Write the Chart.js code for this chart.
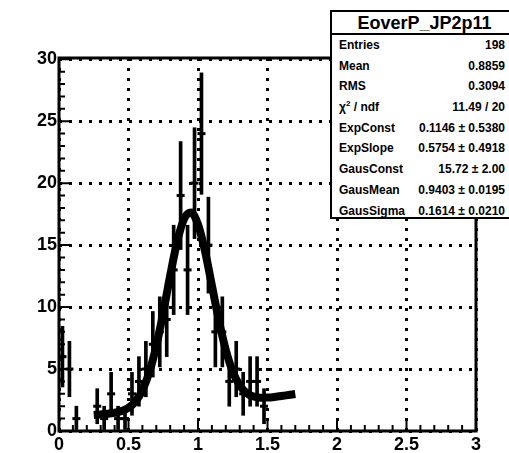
<!DOCTYPE html>
<html>
<head>
<meta charset="utf-8">
<script src="https://cdn.jsdelivr.net/npm/chart.js@4.4.1/dist/chart.umd.min.js"></script>
<style>
  html, body { margin: 0; padding: 0; background: #fff; }
  #wrap { position: relative; width: 509px; height: 453px; overflow: hidden; }
  #stats {
    position: absolute; left: 330px; top: 10px; width: 181px; height: 209px;
    background: #fff; border: 2px solid #000; box-sizing: border-box;
    font-family: "Liberation Sans", Arial, sans-serif; font-weight: bold; color: #000;
  }
  #stats .title { height: 21px; line-height: 22px; text-align: center; font-size: 18px; border-bottom: 2px solid #000; padding-left: 8px; }
  #stats .row { height: 20.7px; line-height: 20.7px; font-size: 12px; display: flex; justify-content: space-between; padding: 0 4px 0 7px; }
  #stats sup { font-size: 8px; line-height: 0; }
</style>
</head>
<body>
<div id="wrap">
  <canvas id="histChart" width="509" height="453"></canvas>
  <div id="stats"></div>
</div>
<script>
// histogram EoverP_JP2p11, bins of 0.05 (only the filled range, empty bins skipped)
const binX = [0.025, 0.075, 0.125, 0.175, 0.225, 0.275, 0.325, 0.375, 0.425, 0.475,
              0.525, 0.575, 0.625, 0.675, 0.725, 0.775, 0.825, 0.875, 0.925, 0.975,
              1.025, 1.075, 1.125, 1.175, 1.225, 1.275, 1.325, 1.375, 1.425, 1.475];
const counts = [6, 5, 1, 0, 0, 2, 1, 3, 1, 1,
                3, 4, 5, 7, 8, 9, 13, 19, 13, 20,
                24, 15, 8, 8, 4, 5, 3, 4, 4, 2];

// fit curve (expo + gaus)
const fitX = [0.25, 0.30, 0.35, 0.40, 0.45, 0.50, 0.55, 0.60, 0.65, 0.70,
              0.75, 0.80, 0.85, 0.90, 0.95, 1.00, 1.05, 1.10, 1.15, 1.20,
              1.25, 1.30, 1.35, 1.40, 1.45, 1.50, 1.55, 1.60, 1.65, 1.70];
const fitY = [1.30, 1.34, 1.39, 1.47, 1.61, 1.88, 2.38, 3.29, 4.75, 6.87,
              9.57, 12.55, 15.27, 17.12, 17.63, 16.67, 14.53, 11.74, 8.93, 6.54,
              4.79, 3.68, 3.06, 2.78, 2.69, 2.70, 2.75, 2.82, 2.90, 2.98];

const statTitle = 'EoverP_JP2p11';
const statLabels = ['Entries', 'Mean', 'RMS', 'χ<sup>2</sup> / ndf', 'ExpConst', 'ExpSlope', 'GausConst', 'GausMean', 'GausSigma'];
const statValues = ['198', '0.8859', '0.3094', '11.49 / 20', '0.1146 ± 0.5380', '0.5754 ± 0.4918', '15.72 ± 2.00', '0.9403 ± 0.0195', '0.1614 ± 0.0210'];

const FONT = '"Liberation Sans", Arial, sans-serif';

// stats box
const stats = document.getElementById('stats');
let html = '<div class="title">' + statTitle + '</div>';
statLabels.forEach((lab, i) => {
    html += '<div class="row"><span>' + lab + '</span><span>' + statValues[i] + '</span></div>';
});
stats.innerHTML = html;

// points with entries only
const errBars = [];
const markers = [];
binX.forEach((x, i) => {
    const n = counts[i];
    if (n <= 0) return;
    const e = Math.sqrt(n);
    errBars.push({ x: x, y: [n - e, n + e] });
    markers.push({ x: x, y: n });
});
const fitData = fitX.map((x, i) => ({ x: x, y: fitY[i] }));

// frame and inside ticks like ROOT
const frameTicks = {
    id: 'frameTicks',
    afterDraw(chart) {
        const { ctx, chartArea: a, scales: { x, y } } = chart;
        ctx.save();
        ctx.strokeStyle = '#000';
        ctx.lineWidth = 2;
        ctx.beginPath();
        for (let i = 0; i <= 30; i++) {
            const px = x.getPixelForValue(i / 10);
            const len = i % 5 === 0 ? 11 : 6;
            ctx.moveTo(px, a.bottom);
            ctx.lineTo(px, a.bottom - len);
        }
        for (let i = 0; i <= 30; i++) {
            const py = y.getPixelForValue(i);
            const len = i % 5 === 0 ? 11 : 6;
            ctx.moveTo(a.left, py);
            ctx.lineTo(a.left + len, py);
        }
        ctx.stroke();
        ctx.lineWidth = 3;
        ctx.strokeRect(a.left, a.top, a.right - a.left, a.bottom - a.top);
        ctx.restore();
    }
};

new Chart(document.getElementById('histChart'), {
    type: 'scatter',
    data: {
        datasets: [
            {
                type: 'line',
                label: 'fit',
                data: fitData,
                borderColor: '#000',
                borderWidth: 8,
                pointRadius: 0,
                cubicInterpolationMode: 'monotone',
                order: 0
            },
            {
                type: 'bar',
                label: 'errors',
                data: errBars,
                backgroundColor: '#000',
                barThickness: 3,
                grouped: false,
                order: 1
            },
            {
                type: 'scatter',
                label: 'bins',
                data: markers,
                pointStyle: 'line',
                pointRadius: 4,
                borderWidth: 3,
                borderColor: '#000',
                order: 1
            }
        ]
    },
    options: {
        responsive: false,
        animation: false,
        layout: { padding: { top: 58, right: 33, left: 0, bottom: 0 } },
        plugins: { legend: { display: false }, tooltip: { enabled: false } },
        scales: {
            x: {
                type: 'linear',
                min: 0,
                max: 3,
                offset: false,
                afterFit: (s) => { s.height = 22; },
                ticks: {
                    stepSize: 0.5,
                    padding: 3,
                    color: '#000',
                    maxRotation: 0,
                    callback: (v) => String(Math.round(v * 10) / 10),
                    font: { family: FONT, size: 18, weight: 'bold' }
                },
                grid: { color: '#000', lineWidth: 3, drawTicks: false, offset: false },
                border: { display: false, dash: [3, 7] }
            },
            y: {
                min: 0,
                max: 30.1,
                afterFit: (s) => { s.width = 59; },
                ticks: {
                    stepSize: 5,
                    includeBounds: false,
                    padding: 2,
                    color: '#000',
                    font: { family: FONT, size: 18, weight: 'bold' }
                },
                grid: { color: '#000', lineWidth: 3, drawTicks: false },
                border: { display: false, dash: [3, 7] }
            }
        }
    },
    plugins: [frameTicks]
});
</script>
</body>
</html>
